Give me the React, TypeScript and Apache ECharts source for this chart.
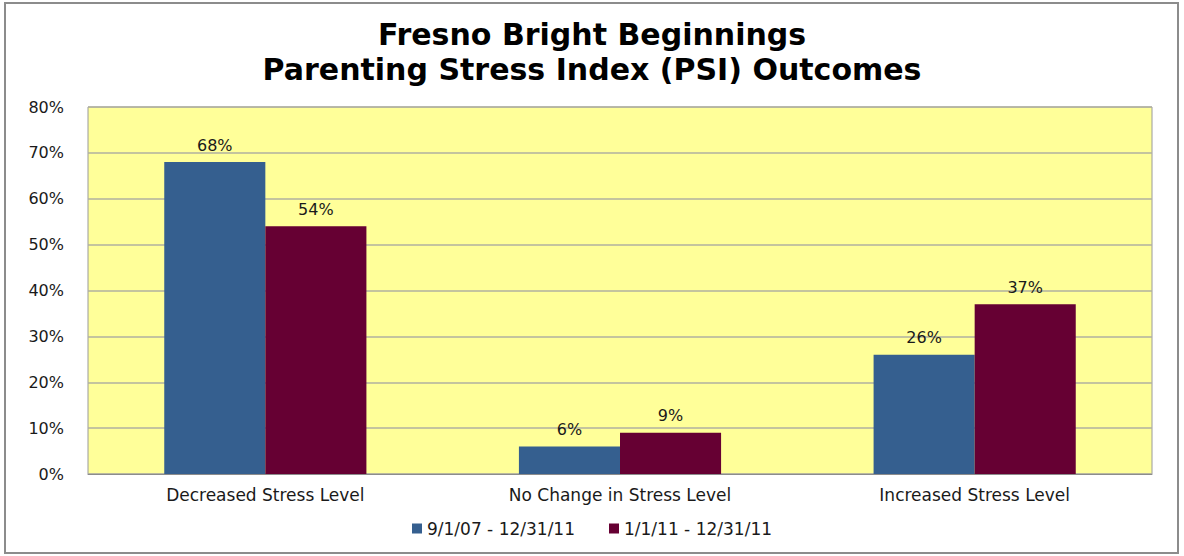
import React, { useEffect, useRef } from "react";
import * as echarts from "echarts";

const categories = ["Decreased Stress Level", "No Change in Stress Level", "Increased Stress Level"];
const seriesNames = ["9/1/07 - 12/31/11", "1/1/11 - 12/31/11"];
const series1 = [68, 6, 26];
const series2 = [54, 9, 37];
const titleLines = ["Fresno Bright Beginnings", "Parenting Stress Index (PSI) Outcomes"];

const FONT = "'DejaVu Sans', sans-serif";

export default function App() {
  const ref = useRef<HTMLDivElement>(null);
  useEffect(() => {
    const chart = echarts.init(ref.current!, null, { renderer: "svg" });
    const label = {
      show: true,
      position: "top" as const,
      formatter: "{c}%",
      fontFamily: FONT,
      fontSize: 16,
      color: "#1a1a1a",
      distance: 9,
    };
    chart.setOption({
      animation: false,
      backgroundColor: "#ffffff",
      title: {
        text: titleLines.join("\n"),
        left: "center",
        top: 12,
        textStyle: {
          fontFamily: FONT,
          fontWeight: "bold",
          fontSize: 30,
          lineHeight: 35,
          color: "#000",
        },
      },
      graphic: [
        {
          type: "rect",
          shape: { x: 5, y: 3, width: 1173, height: 550 },
          style: { fill: "none", stroke: "#8c8c8c", lineWidth: 2 },
          silent: true,
        },
      ],
      legend: {
        bottom: 14,
        left: "center",
        itemWidth: 10,
        itemHeight: 10,
        itemGap: 34,
        icon: "rect",
        textStyle: { fontFamily: FONT, fontSize: 17, color: "#1a1a1a" },
        data: seriesNames,
      },
      grid: {
        left: 88,
        right: 32,
        top: 107,
        bottom: 82,
        show: true,
        backgroundColor: "#FFFF99",
        borderColor: "#9a9a9a",
        borderWidth: 1,
      },
      xAxis: {
        type: "category",
        data: categories,
        axisTick: { show: false },
        axisLine: { lineStyle: { color: "#8c8c8c" } },
        axisLabel: { fontFamily: FONT, fontSize: 17, color: "#1a1a1a", margin: 12 },
      },
      yAxis: {
        type: "value",
        min: 0,
        max: 80,
        interval: 10,
        axisLabel: { formatter: "{value}%", fontFamily: FONT, fontSize: 16, color: "#1a1a1a", margin: 24 },
        axisLine: { show: false },
        axisTick: { show: false },
        splitLine: { lineStyle: { color: "#b0b0a0", width: 1.5 } },
      },
      series: [
        {
          name: seriesNames[0],
          type: "bar",
          data: series1,
          itemStyle: { color: "#355F8F" },
          barGap: "0%",
          barCategoryGap: "43%",
          label,
        },
        {
          name: seriesNames[1],
          type: "bar",
          data: series2,
          itemStyle: { color: "#660033" },
          barGap: "0%",
          barCategoryGap: "43%",
          label,
        },
      ],
    });
    return () => chart.dispose();
  }, []);
  return (
    <div
      ref={ref}
      style={{ position: "fixed", left: 0, top: 0, width: 1184, height: 556 }}
    />
  );
}
